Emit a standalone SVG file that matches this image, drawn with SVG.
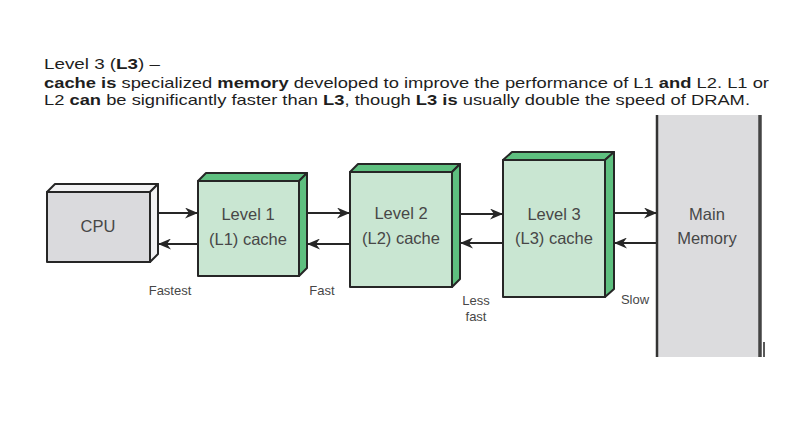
<svg xmlns="http://www.w3.org/2000/svg" width="788" height="427" viewBox="0 0 788 427">
<style>
.hdr{font-family:"Liberation Sans",Arial,sans-serif;font-size:15px;fill:#1e1e1e}
.b{font-weight:bold}
.lbl{font-family:"Liberation Sans",Arial,sans-serif;font-size:16.5px;fill:#474747;text-anchor:middle}
.sm{font-family:"Liberation Sans",Arial,sans-serif;font-size:13px;fill:#474747;text-anchor:middle}
.front{fill:#c9e6d2;stroke:#262626;stroke-width:2;stroke-linejoin:round}
.face{fill:#5ebf7f;stroke:#262626;stroke-width:2;stroke-linejoin:round}
.cfront{fill:#dadadd;stroke:#262626;stroke-width:2;stroke-linejoin:round}
.cface{fill:#f2f2f3;stroke:#262626;stroke-width:2;stroke-linejoin:round}
.arr{stroke:#262626;stroke-width:2;fill:none;marker-end:url(#ah)}
</style>
<defs>
<marker id="ah" viewBox="0 0 13 11" refX="12" refY="5.5" markerWidth="13" markerHeight="11" markerUnits="userSpaceOnUse" orient="auto">
<path d="M0,0 L13,5.5 L0,11 L4,5.5 z" fill="#262626"/>
</marker>
</defs>
<rect width="788" height="427" fill="#ffffff"/>
<g id="header">
<text class="hdr" x="44" y="69" textLength="116" lengthAdjust="spacingAndGlyphs">Level 3 (<tspan class="b">L3</tspan>) –</text>
<text class="hdr" x="44" y="88" textLength="725" lengthAdjust="spacingAndGlyphs"><tspan class="b">cache is</tspan> specialized <tspan class="b">memory</tspan> developed to improve the performance of L1 <tspan class="b">and</tspan> L2. L1 or</text>
<text class="hdr" x="44" y="105" textLength="706" lengthAdjust="spacingAndGlyphs">L2 <tspan class="b">can</tspan> be significantly faster than <tspan class="b">L3</tspan>, though <tspan class="b">L3 is</tspan> usually double the speed of DRAM.</text>
</g>
<g id="main-memory">
<rect x="657" y="115" width="103" height="242" fill="#dcdcde"/>
<line x1="657" y1="115" x2="657" y2="357" stroke="#333" stroke-width="2.5"/>
<line x1="760" y1="115" x2="760" y2="357" stroke="#444" stroke-width="3.5"/>
<line x1="764" y1="342" x2="764" y2="357" stroke="#222" stroke-width="1.5"/>
<text class="lbl" x="707" y="220">Main</text>
<text class="lbl" x="707" y="244">Memory</text>
</g>
<g id="cpu">
<polygon class="cface" points="47,192 55,184 158,184 150,192"/>
<polygon class="cface" points="150,192 158,184 158,254 150,262"/>
<rect class="cfront" x="47" y="192" width="103" height="70"/>
<text class="lbl" x="98" y="232">CPU</text>
</g>
<g id="l1">
<polygon class="face" points="198,181 206,173 307,173 299,181"/>
<polygon class="face" points="299,181 307,173 307,268 299,276"/>
<rect class="front" x="198" y="181" width="101" height="95"/>
<text class="lbl" x="248" y="220">Level 1</text>
<text class="lbl" x="248" y="245">(L1) cache</text>
</g>
<g id="l2">
<polygon class="face" points="350,172 358,164 460,164 452,172"/>
<polygon class="face" points="452,172 460,164 460,279 452,287"/>
<rect class="front" x="350" y="172" width="102" height="115"/>
<text class="lbl" x="401" y="219">Level 2</text>
<text class="lbl" x="401" y="244">(L2) cache</text>
</g>
<g id="l3">
<polygon class="face" points="503,160 512,152 614,152 605,160"/>
<polygon class="face" points="605,160 614,152 614,289 605,297"/>
<rect class="front" x="503" y="160" width="102" height="137"/>
<text class="lbl" x="554" y="220">Level 3</text>
<text class="lbl" x="554" y="244">(L3) cache</text>
</g>
<g id="connectors">
<line class="arr" x1="158" y1="213" x2="197" y2="213"/>
<line class="arr" x1="197" y1="244" x2="159" y2="244"/>
<line class="arr" x1="307" y1="213" x2="349" y2="213"/>
<line class="arr" x1="349" y1="244" x2="308" y2="244"/>
<line class="arr" x1="460" y1="214" x2="502" y2="214"/>
<line class="arr" x1="502" y1="243" x2="461" y2="243"/>
<line class="arr" x1="614" y1="213" x2="656" y2="213"/>
<line class="arr" x1="656" y1="243" x2="615" y2="243"/>
</g>
<g id="speed-labels">
<text class="sm" x="170" y="295">Fastest</text>
<text class="sm" x="322" y="295">Fast</text>
<text class="sm" x="476" y="305">Less</text>
<text class="sm" x="476" y="321">fast</text>
<text class="sm" x="635" y="304">Slow</text>
</g>
</svg>
